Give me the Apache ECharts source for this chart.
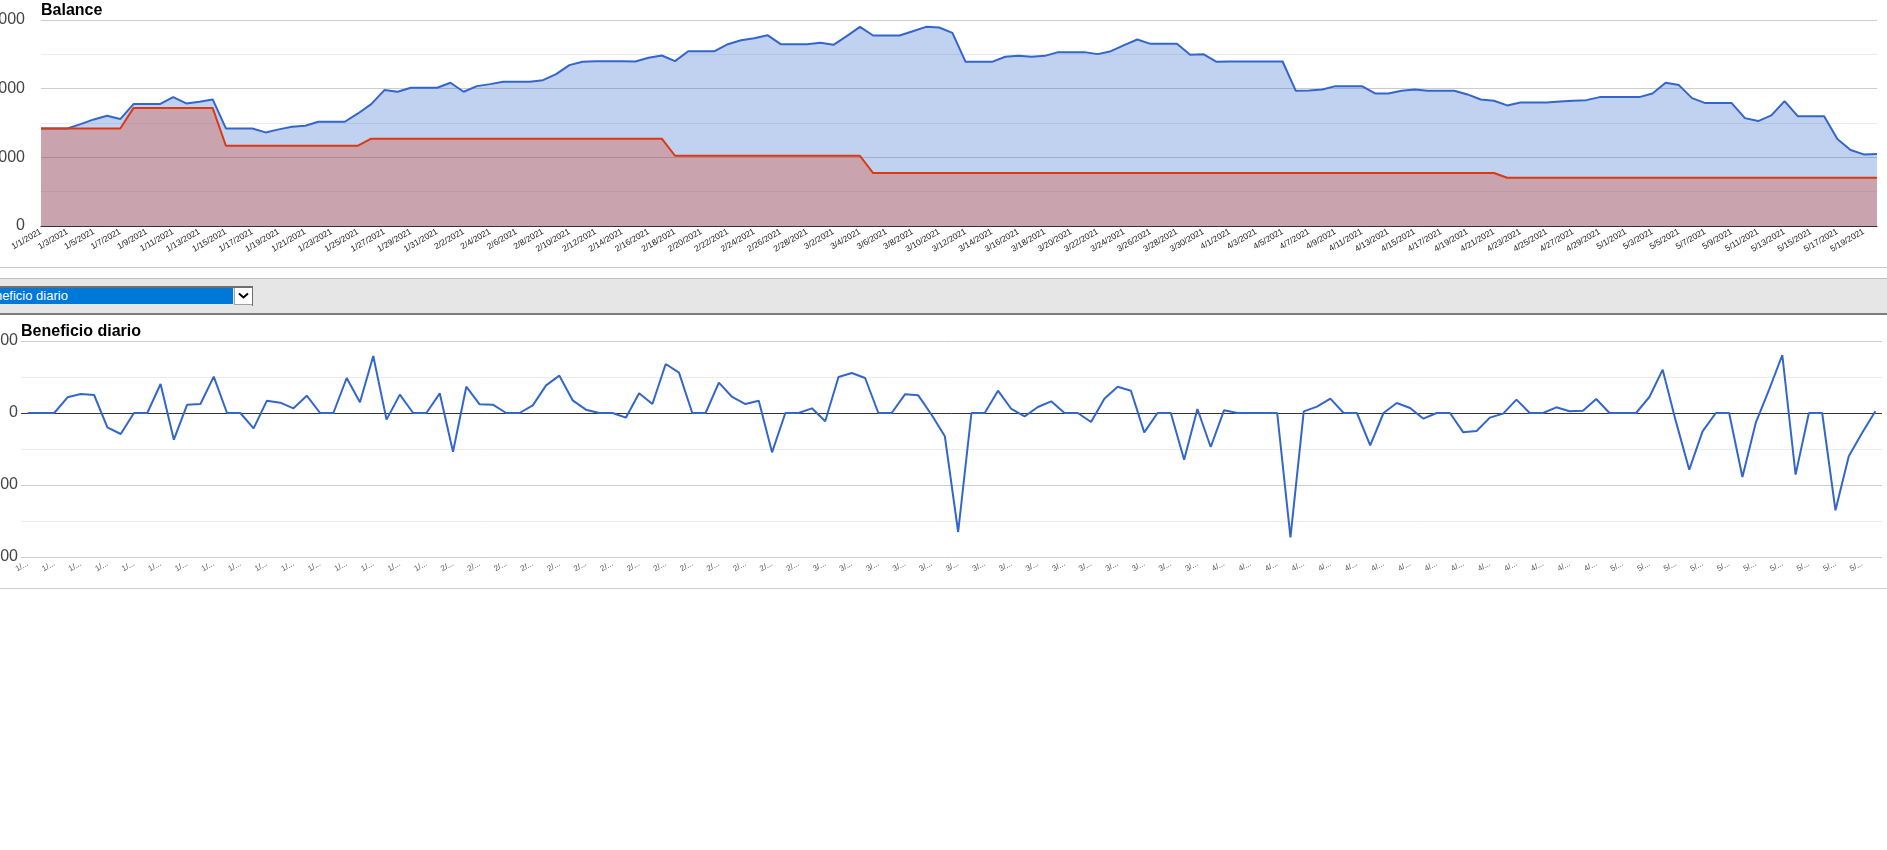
<!DOCTYPE html>
<html>
<head>
<meta charset="utf-8">
<script src="https://cdn.jsdelivr.net/npm/echarts@6/dist/echarts.min.js"></script>
<style>
  html, body { margin: 0; padding: 0; background: #fff; overflow: hidden; }
  #chart { position: absolute; left: 0; top: 0; width: 1887px; height: 850px; }
  .abs { position: absolute; }
</style>
</head>
<body>
<div id="chart"></div>
<div class="abs" style="left:0;top:267px;width:1887px;height:1px;background:#c8c8c8;"></div>
<div class="abs" style="left:0;top:278px;width:1887px;height:1px;background:#bdbdbd;"></div>
<div class="abs" style="left:0;top:279px;width:1887px;height:34px;background:#e6e6e6;"></div>
<div class="abs" style="left:0;top:313px;width:1887px;height:2px;background:#7d7d7d;"></div>
<div class="abs" style="left:0;top:286px;width:253px;height:2px;background:#6f6f6f;"></div>
<div class="abs" style="left:252px;top:286px;width:1px;height:20px;background:#6f6f6f;"></div>
<div class="abs" style="left:0;top:288px;width:233px;height:16px;background:#0078d7;overflow:hidden;">
  <span class="abs" style="left:-21px;top:0px;line-height:16px;font:13px 'Liberation Sans',Arial,sans-serif;color:#fff;white-space:nowrap;">Beneficio diario</span>
</div>
<div class="abs" style="left:234px;top:288px;width:17px;height:16px;background:#fff;border-left:1px solid #a0a0a0;border-bottom:1px solid #a0a0a0;"></div>
<svg class="abs" style="left:234px;top:288px;" width="19" height="18"><polyline points="5,5.5 9.5,9.5 14,5.5" fill="none" stroke="#000" stroke-width="2"/></svg>
<div class="abs" style="left:0;top:588px;width:1887px;height:1px;background:#cccccc;"></div>
<script>
const dates = [
 '1/1/2021','1/2/2021','1/3/2021','1/4/2021','1/5/2021','1/6/2021','1/7/2021','1/8/2021','1/9/2021','1/10/2021',
 '1/11/2021','1/12/2021','1/13/2021','1/14/2021','1/15/2021','1/16/2021','1/17/2021','1/18/2021','1/19/2021','1/20/2021',
 '1/21/2021','1/22/2021','1/23/2021','1/24/2021','1/25/2021','1/26/2021','1/27/2021','1/28/2021','1/29/2021','1/30/2021',
 '1/31/2021','2/1/2021','2/2/2021','2/3/2021','2/4/2021','2/5/2021','2/6/2021','2/7/2021','2/8/2021','2/9/2021',
 '2/10/2021','2/11/2021','2/12/2021','2/13/2021','2/14/2021','2/15/2021','2/16/2021','2/17/2021','2/18/2021','2/19/2021',
 '2/20/2021','2/21/2021','2/22/2021','2/23/2021','2/24/2021','2/25/2021','2/26/2021','2/27/2021','2/28/2021','3/1/2021',
 '3/2/2021','3/3/2021','3/4/2021','3/5/2021','3/6/2021','3/7/2021','3/8/2021','3/9/2021','3/10/2021','3/11/2021',
 '3/12/2021','3/13/2021','3/14/2021','3/15/2021','3/16/2021','3/17/2021','3/18/2021','3/19/2021','3/20/2021','3/21/2021',
 '3/22/2021','3/23/2021','3/24/2021','3/25/2021','3/26/2021','3/27/2021','3/28/2021','3/29/2021','3/30/2021','3/31/2021',
 '4/1/2021','4/2/2021','4/3/2021','4/4/2021','4/5/2021','4/6/2021','4/7/2021','4/8/2021','4/9/2021','4/10/2021',
 '4/11/2021','4/12/2021','4/13/2021','4/14/2021','4/15/2021','4/16/2021','4/17/2021','4/18/2021','4/19/2021','4/20/2021',
 '4/21/2021','4/22/2021','4/23/2021','4/24/2021','4/25/2021','4/26/2021','4/27/2021','4/28/2021','4/29/2021','4/30/2021',
 '5/1/2021','5/2/2021','5/3/2021','5/4/2021','5/5/2021','5/6/2021','5/7/2021','5/8/2021','5/9/2021','5/10/2021',
 '5/11/2021','5/12/2021','5/13/2021','5/14/2021','5/15/2021','5/16/2021','5/17/2021','5/18/2021','5/19/2021','5/20/2021'
];

const balance = [
 14210,14210,14210,14840,15520,16050,15570,17750,17750,17750,
 18770,17850,18090,18430,14210,14210,14210,13630,14070,14450,
 14600,15180,15180,15180,16390,17750,19790,19550,20130,20130,
 20130,20860,19550,20370,20660,21000,21000,21000,21240,22120,
 23430,23910,24010,24010,24010,23960,24490,24830,24010,25460,
 25460,25460,26480,27060,27350,27790,26480,26480,26480,26680,
 26380,27650,29000,27740,27740,27740,28370,29000,28900,28130,
 23910,23910,23910,24640,24780,24640,24780,25320,25320,25320,
 25030,25460,26340,27160,26530,26530,26530,24930,25030,23910,
 23960,23960,23960,23960,23960,19690,19740,19890,20370,20370,
 20370,19300,19300,19690,19890,19690,19690,19690,19160,18430,
 18240,17560,17990,17990,17990,18140,18240,18330,18770,18770,
 18770,18770,19300,20860,20520,18620,17900,17900,17900,15710,
 15280,16100,18190,16000,16000,16000,12660,11060,10430,10480
];

const deposits = [
 14210,14210,14210,14210,14210,14210,14210,17170,17170,17170,
 17170,17170,17170,17170,11690,11690,11690,11690,11690,11690,
 11690,11690,11690,11690,11690,12710,12710,12710,12710,12710,
 12710,12710,12710,12710,12710,12710,12710,12710,12710,12710,
 12710,12710,12710,12710,12710,12710,12710,12710,10230,10230,
 10230,10230,10230,10230,10230,10230,10230,10230,10230,10230,
 10230,10230,10230,7710,7710,7710,7710,7710,7710,7710,
 7710,7710,7710,7710,7710,7710,7710,7710,7710,7710,
 7710,7710,7710,7710,7710,7710,7710,7710,7710,7710,
 7710,7710,7710,7710,7710,7710,7710,7710,7710,7710,
 7710,7710,7710,7710,7710,7710,7710,7710,7710,7710,
 7710,7030,7030,7030,7030,7030,7030,7030,7030,7030,
 7030,7030,7030,7030,7030,7030,7030,7030,7030,7030,
 7030,7030,7030,7030,7030,7030,7030,7030,7030,7030
];

const dailyProfit = [
 0,0,0,544,660,625,-498,-729,0,0,
 1007,-926,289,312,1262,0,0,-532,428,359,
 162,602,0,0,1215,370,1979,-231,637,0,
 0,683,-1343,914,301,289,0,0,266,961,
 1296,440,116,0,0,-162,683,312,1701,1400,
 0,0,1053,556,312,428,-1366,0,0,162,
 -289,1250,1389,1215,0,0,648,613,-60,-810,
 -4132,0,0,775,139,-116,208,405,0,0,
 -313,498,914,775,-671,0,0,-1620,139,-1181,
 93,0,0,0,0,-4317,58,220,498,0,
 0,-1123,0,347,174,-197,0,0,-671,-625,
 -162,-23,463,0,0,197,58,81,486,0,
 0,0,556,1505,-300,-1968,-637,0,0,-2222,
 -347,800,2014,-2141,0,0,-3380,-1505,-694,58
];

const balanceTicks = { min: 0, max: 30000, interval: 10000 };
const dailyTicks = { min: -5000, max: 2500, interval: 2500 };

const FONT = "'Liberation Sans', Arial, sans-serif";
const chart = echarts.init(document.getElementById('chart'), null, { renderer: 'canvas' });

const yCommon = {
  type: 'value',
  axisLine: { show: false },
  axisTick: { show: false },
  splitLine: { show: true, lineStyle: { color: '#cccccc', width: 1 } },
  minorTick: { show: false, splitNumber: 2 },
  minorSplitLine: { show: true, lineStyle: { color: '#ebebeb', width: 1 } }
};

chart.setOption({
  animation: false,
  textStyle: { fontFamily: FONT },
  title: [
    { text: 'Balance', left: 41, top: 3, padding: 0,
      textStyle: { fontFamily: FONT, fontSize: 16, fontWeight: 'bold', color: '#000' } },
    { text: 'Beneficio diario', left: 21, top: 324, padding: 0,
      textStyle: { fontFamily: FONT, fontSize: 16, fontWeight: 'bold', color: '#000' } }
  ],
  grid: [
    { left: 41, top: 20, width: 1836, height: 206, containLabel: false, outerBoundsMode: 'none' },
    { left: 21, top: 341, width: 1861, height: 216, containLabel: false, outerBoundsMode: 'none' }
  ],
  xAxis: [
    { type: 'category', gridIndex: 0, data: dates, boundaryGap: false,
      axisLine: { show: true, lineStyle: { color: '#333333', width: 1 } },
      axisTick: { show: false },
      splitLine: { show: false },
      axisLabel: { interval: 1, rotate: 30, margin: 5, fontSize: 8.5, color: '#222222', fontFamily: FONT } },
    { type: 'category', gridIndex: 1, data: dates, boundaryGap: true,
      axisLine: { show: false },
      axisTick: { show: false },
      splitLine: { show: false },
      axisLabel: { interval: 1, rotate: 30, margin: 6, fontSize: 8, color: '#555555', fontFamily: FONT,
        formatter: v => v.split('/')[0] + '/...' } }
  ],
  yAxis: [
    Object.assign({}, yCommon, { gridIndex: 0, min: balanceTicks.min, max: balanceTicks.max, interval: balanceTicks.interval,
      axisLabel: { margin: 16, fontSize: 16, color: '#444444', fontFamily: FONT, formatter: v => String(v) } }),
    Object.assign({}, yCommon, { gridIndex: 1, min: dailyTicks.min, max: dailyTicks.max, interval: dailyTicks.interval,
      axisLabel: { margin: 3, fontSize: 16, color: '#444444', fontFamily: FONT, formatter: v => String(v) } })
  ],
  series: [
    { name: 'Balance', type: 'line', xAxisIndex: 0, yAxisIndex: 0, data: balance,
      symbol: 'none', lineStyle: { color: '#3366cc', width: 2 },
      itemStyle: { color: '#3366cc' },
      areaStyle: { color: '#3366cc', opacity: 0.3 } },
    { name: 'Depósitos', type: 'line', xAxisIndex: 0, yAxisIndex: 0, data: deposits,
      symbol: 'none', lineStyle: { color: '#dc3912', width: 2 },
      itemStyle: { color: '#dc3912' },
      areaStyle: { color: '#dc3912', opacity: 0.3 } },
    { name: 'Beneficio diario', type: 'line', xAxisIndex: 1, yAxisIndex: 1, data: dailyProfit,
      symbol: 'none', lineStyle: { color: '#3366cc', width: 2 },
      itemStyle: { color: '#3366cc' },
      markLine: { silent: true, symbol: 'none', label: { show: false }, z: 1,
        lineStyle: { color: '#333333', width: 1, type: 'solid' },
        data: [{ yAxis: 0 }] } }
  ]
});
</script>
</body>
</html>
